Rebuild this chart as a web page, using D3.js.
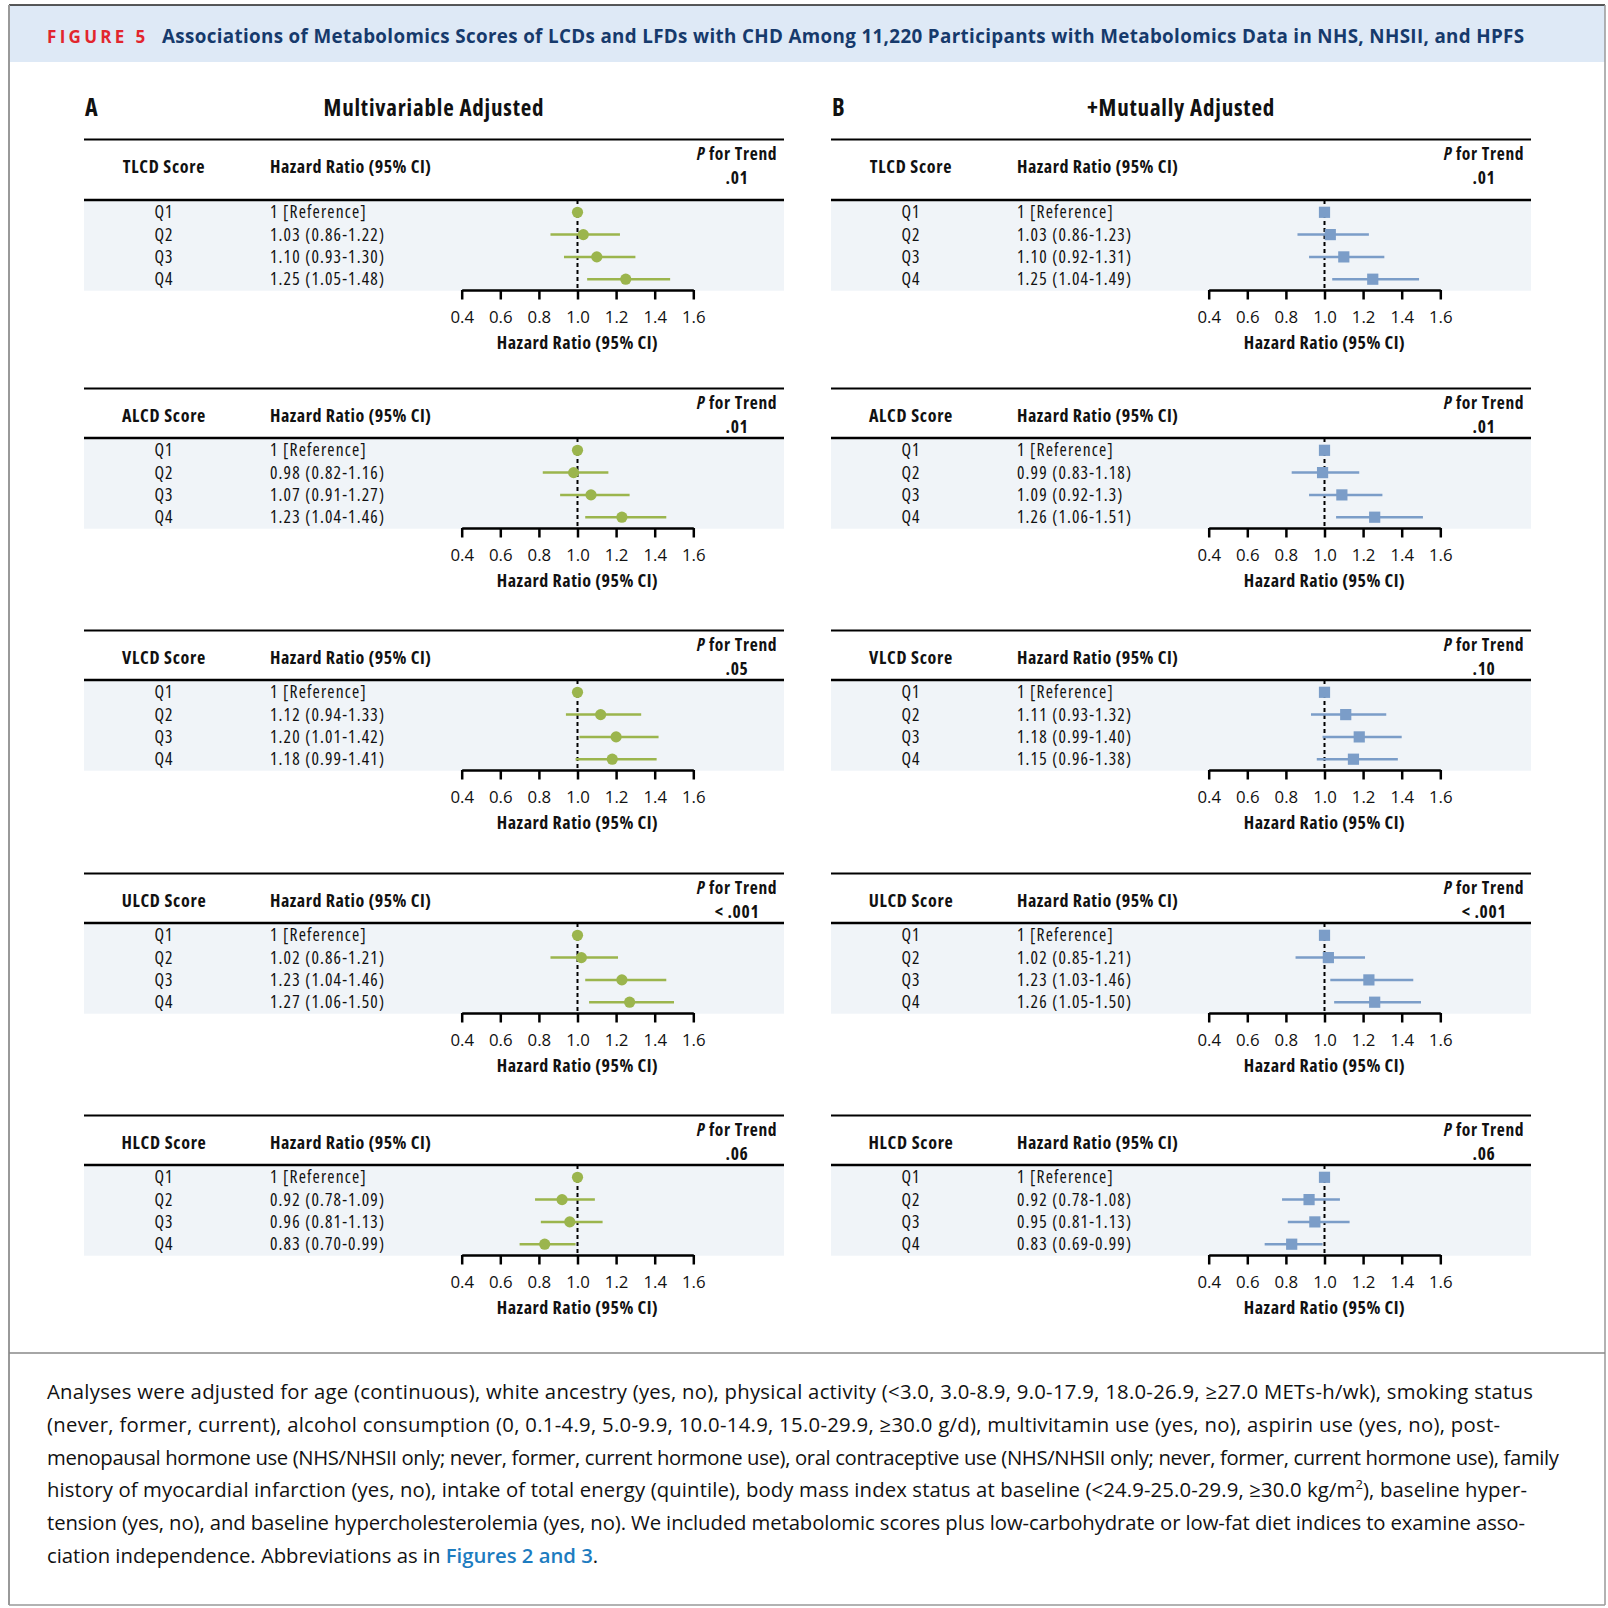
<!DOCTYPE html>
<html>
<head>
<meta charset="utf-8">
<script src="https://cdn.jsdelivr.net/npm/d3@7"></script>
<style>
  body { margin: 0; background: #fff; }
  svg { display: block; }
  text { font-family: 'Open Sans', 'Noto Sans', sans-serif; font-stretch: 75%; fill: #111; }
  text.wide { font-stretch: 100%; }
</style>
</head>
<body>
<div id="canvas"></div>
<script>
const scores = ["TLCD", "ALCD", "VLCD", "ULCD", "HLCD"];
const quartiles = ["Q1", "Q2", "Q3", "Q4"];
const tickValues = [0.4, 0.6, 0.8, 1.0, 1.2, 1.4, 1.6];

// A: multivariable adjusted
const hrA = [[1, 1.03, 1.10, 1.25], [1, 0.98, 1.07, 1.23], [1, 1.12, 1.20, 1.18], [1, 1.02, 1.23, 1.27], [1, 0.92, 0.96, 0.83]];
const loA = [[null, 0.86, 0.93, 1.05], [null, 0.82, 0.91, 1.04], [null, 0.94, 1.01, 0.99], [null, 0.86, 1.04, 1.06], [null, 0.78, 0.81, 0.70]];
const hiA = [[null, 1.22, 1.30, 1.48], [null, 1.16, 1.27, 1.46], [null, 1.33, 1.42, 1.41], [null, 1.21, 1.46, 1.50], [null, 1.09, 1.13, 0.99]];
const labelA = [
  ["1 [Reference]", "1.03 (0.86-1.22)", "1.10 (0.93-1.30)", "1.25 (1.05-1.48)"],
  ["1 [Reference]", "0.98 (0.82-1.16)", "1.07 (0.91-1.27)", "1.23 (1.04-1.46)"],
  ["1 [Reference]", "1.12 (0.94-1.33)", "1.20 (1.01-1.42)", "1.18 (0.99-1.41)"],
  ["1 [Reference]", "1.02 (0.86-1.21)", "1.23 (1.04-1.46)", "1.27 (1.06-1.50)"],
  ["1 [Reference]", "0.92 (0.78-1.09)", "0.96 (0.81-1.13)", "0.83 (0.70-0.99)"]
];
const ptrendA = [".01", ".01", ".05", "< .001", ".06"];

// B: + mutually adjusted
const hrB = [[1, 1.03, 1.10, 1.25], [1, 0.99, 1.09, 1.26], [1, 1.11, 1.18, 1.15], [1, 1.02, 1.23, 1.26], [1, 0.92, 0.95, 0.83]];
const loB = [[null, 0.86, 0.92, 1.04], [null, 0.83, 0.92, 1.06], [null, 0.93, 0.99, 0.96], [null, 0.85, 1.03, 1.05], [null, 0.78, 0.81, 0.69]];
const hiB = [[null, 1.23, 1.31, 1.49], [null, 1.18, 1.30, 1.51], [null, 1.32, 1.40, 1.38], [null, 1.21, 1.46, 1.50], [null, 1.08, 1.13, 0.99]];
const labelB = [
  ["1 [Reference]", "1.03 (0.86-1.23)", "1.10 (0.92-1.31)", "1.25 (1.04-1.49)"],
  ["1 [Reference]", "0.99 (0.83-1.18)", "1.09 (0.92-1.3)", "1.26 (1.06-1.51)"],
  ["1 [Reference]", "1.11 (0.93-1.32)", "1.18 (0.99-1.40)", "1.15 (0.96-1.38)"],
  ["1 [Reference]", "1.02 (0.85-1.21)", "1.23 (1.03-1.46)", "1.26 (1.05-1.50)"],
  ["1 [Reference]", "0.92 (0.78-1.08)", "0.95 (0.81-1.13)", "0.83 (0.69-0.99)"]
];
const ptrendB = [".01", ".01", ".10", "< .001", ".06"];

const footLines = [
  "Analyses were adjusted for age (continuous), white ancestry (yes, no), physical activity (<3.0, 3.0-8.9, 9.0-17.9, 18.0-26.9, \u226527.0 METs-h/wk), smoking status",
  "(never, former, current), alcohol consumption (0, 0.1-4.9, 5.0-9.9, 10.0-14.9, 15.0-29.9, \u226530.0 g/d), multivitamin use (yes, no), aspirin use (yes, no), post-",
  "menopausal hormone use (NHS/NHSII only; never, former, current hormone use), oral contraceptive use (NHS/NHSII only; never, former, current hormone use), family",
  "history of myocardial infarction (yes, no), intake of total energy (quintile), body mass index status at baseline (<24.9-25.0-29.9, \u226530.0 kg/m",
  "tension (yes, no), and baseline hypercholesterolemia (yes, no). We included metabolomic scores plus low-carbohydrate or low-fat diet indices to examine asso-",
  "ciation independence. Abbreviations as in "
];
// line widths of the footnote as set in the original
const footWidths = [1486, 1453, 1512, 1480, 1478, null];

const width = 1608, height = 1608;
const svg = d3.select("#canvas").append("svg")
  .attr("width", width).attr("height", height);

// frame + header band
svg.append("rect").attr("x", 9).attr("y", 5).attr("width", 1596).attr("height", 57).attr("fill", "#dee9f6");
svg.append("line").attr("x1", 9).attr("x2", 1605).attr("y1", 5).attr("y2", 5).attr("stroke", "#222").attr("stroke-width", 1.5);
svg.append("line").attr("x1", 9).attr("x2", 9).attr("y1", 5).attr("y2", 1605).attr("stroke", "#999").attr("stroke-width", 2);
svg.append("line").attr("x1", 1605).attr("x2", 1605).attr("y1", 5).attr("y2", 1605).attr("stroke", "#999").attr("stroke-width", 1.5);
svg.append("line").attr("x1", 9).attr("x2", 1605).attr("y1", 1605).attr("y2", 1605).attr("stroke", "#999").attr("stroke-width", 1.5);
svg.append("line").attr("x1", 9).attr("x2", 1605).attr("y1", 1353).attr("y2", 1353).attr("stroke", "#888").attr("stroke-width", 1.5);

svg.append("text").attr("class", "wide").attr("x", 47).attr("y", 43)
  .style("font-size", "17px").style("font-weight", 700).style("letter-spacing", "3.3px")
  .style("fill", "#e2252d").text("FIGURE 5");
svg.append("text").attr("class", "wide").attr("x", 162).attr("y", 43)
  .style("font-size", "18.8px").style("font-weight", 700).style("letter-spacing", "0.35px").style("fill", "#163a6c")
  .text("Associations of Metabolomics Scores of LCDs and LFDs with CHD Among 11,220 Participants with Metabolomics Data in NHS, NHSII, and HPFS");

const models = [
  {id: "A", title: "Multivariable Adjusted", dx: 0, hr: hrA, lo: loA, hi: hiA, label: labelA, p: ptrendA, color: "#9bb54d", shape: "circle"},
  {id: "B", title: "+Mutually Adjusted", dx: 747, hr: hrB, lo: loB, hi: hiB, label: labelB, p: ptrendB, color: "#7b9dc8", shape: "square"}
];

const panelTop = [139.5, 388.5, 630.5, 873.5, 1115.5];
const headerH = [60.5, 49.5, 49.5, 49.5, 49.5];

const x = d3.scaleLinear().domain([0.4, 1.6]).range([461.7, 693.3]);
const y = d3.scalePoint().domain(quartiles).range([12.3, 12.3 + 3 * 22.3]);

models.forEach(m => {
  const col = svg.append("g").attr("transform", `translate(${m.dx},0)`);
  col.append("text").attr("x", 85).attr("y", 116)
    .style("font-size", "24px").style("font-weight", 700).text(m.id);
  col.append("text").attr("x", 434).attr("y", 116).attr("text-anchor", "middle")
    .style("font-size", "23px").style("font-weight", 700).style("letter-spacing", "0.8px").text(m.title);

  scores.forEach((s, k) => {
    const g = col.append("g").attr("transform", `translate(0,${panelTop[k]})`);
    const H = headerH[k];

    g.append("line").attr("x1", 84).attr("x2", 784).attr("y1", 0).attr("y2", 0)
      .attr("stroke", "#000").attr("stroke-width", 2);
    g.append("text").attr("x", 164).attr("y", 33).attr("text-anchor", "middle")
      .style("font-size", "18px").style("font-weight", 700).style("letter-spacing", "0.7px").text(`${s} Score`);
    g.append("text").attr("x", 270).attr("y", 33)
      .style("font-size", "18px").style("font-weight", 700).style("letter-spacing", "0.52px").text("Hazard Ratio (95% CI)");

    // two-line P for trend heading
    const pt = g.append("text").attr("x", 737).attr("y", 20.5).attr("text-anchor", "middle")
      .style("font-size", "17.5px").style("font-weight", 700).style("letter-spacing", "0.7px");
    pt.append("tspan").style("font-style", "italic").text("P");
    pt.append("tspan").text(" for Trend");
    g.append("text").attr("x", 737).attr("y", 44.5).attr("text-anchor", "middle")
      .style("font-size", "17.5px").style("font-weight", 700).style("letter-spacing", "0.7px").text(m.p[k]);

    const body = g.append("g").attr("transform", `translate(0,${H})`);
    body.append("rect").attr("x", 84).attr("y", 0).attr("width", 700).attr("height", 90.7).attr("fill", "#f0f4f8");
    body.append("line").attr("x1", 84).attr("x2", 784).attr("y1", 0).attr("y2", 0)
      .attr("stroke", "#000").attr("stroke-width", 2.5);

    const rows = quartiles.map((q, i) => ({q, hr: m.hr[k][i], lo: m.lo[k][i], hi: m.hi[k][i], label: m.label[k][i]}));

    body.selectAll("text.q").data(rows).enter().append("text").attr("class", "q")
      .attr("x", 164).attr("y", d => y(d.q) + 6).attr("text-anchor", "middle")
      .style("font-size", "17.5px").style("letter-spacing", "1.1px").text(d => d.q);
    body.selectAll("text.hr").data(rows).enter().append("text").attr("class", "hr")
      .attr("x", 270).attr("y", d => y(d.q) + 6)
      .style("font-size", "17.5px").style("letter-spacing", "1.15px").text(d => d.label);

    // reference line
    body.append("line").attr("x1", x(1)).attr("x2", x(1)).attr("y1", 0).attr("y2", 90)
      .attr("stroke", "#000").attr("stroke-width", 2).attr("stroke-dasharray", "4,3");

    body.selectAll("line.ci").data(rows.filter(d => d.lo != null)).enter().append("line").attr("class", "ci")
      .attr("x1", d => x(d.lo)).attr("x2", d => x(d.hi))
      .attr("y1", d => y(d.q)).attr("y2", d => y(d.q))
      .attr("stroke", m.color).attr("stroke-width", 2.5);

    if (m.shape === "circle") {
      body.selectAll("circle.pt").data(rows).enter().append("circle").attr("class", "pt")
        .attr("cx", d => x(d.hr)).attr("cy", d => y(d.q)).attr("r", 5.6).attr("fill", m.color);
    } else {
      body.selectAll("rect.pt").data(rows).enter().append("rect").attr("class", "pt")
        .attr("x", d => x(d.hr) - 5.6).attr("y", d => y(d.q) - 5.6)
        .attr("width", 11.2).attr("height", 11.2).attr("fill", m.color);
    }

    const axis = body.append("g").attr("transform", "translate(0,90)")
      .call(d3.axisBottom(x).tickValues(tickValues).tickFormat(d3.format(".1f"))
        .tickSize(9.5).tickSizeOuter(0).tickPadding(11.5));
    axis.attr("font-family", null).attr("font-size", null);
    axis.select(".domain").attr("stroke", "#000").attr("stroke-width", 2.5);
    axis.selectAll(".tick line").attr("stroke", "#000").attr("stroke-width", 2.5);
    axis.selectAll(".tick text").attr("class", "wide").style("font-size", "16.8px").attr("fill", "#111");

    body.append("text").attr("x", x(1)).attr("y", 148.8).attr("text-anchor", "middle")
      .style("font-size", "18px").style("font-weight", 700).style("letter-spacing", "0.52px").text("Hazard Ratio (95% CI)");
  });
});

// footnote
const foot = svg.append("g");
footLines.forEach((line, i) => {
  const t = foot.append("text").attr("class", "wide").attr("x", 47).attr("y", 1399 + i * 32.8)
    .style("font-size", "20.3px").text(line);
  if (i === 3) {
    t.append("tspan").attr("dy", -8).style("font-size", "13px").text("2");
    t.append("tspan").attr("dy", 8).text("), baseline hyper-");
  }
  if (i === 5) {
    t.append("tspan").style("fill", "#1d7cc0").style("font-weight", 600).text("Figures 2 and 3");
    t.append("tspan").text(".");
  }
  if (footWidths[i]) t.attr("textLength", footWidths[i]).attr("lengthAdjust", "spacing");
});
</script>
</body>
</html>
